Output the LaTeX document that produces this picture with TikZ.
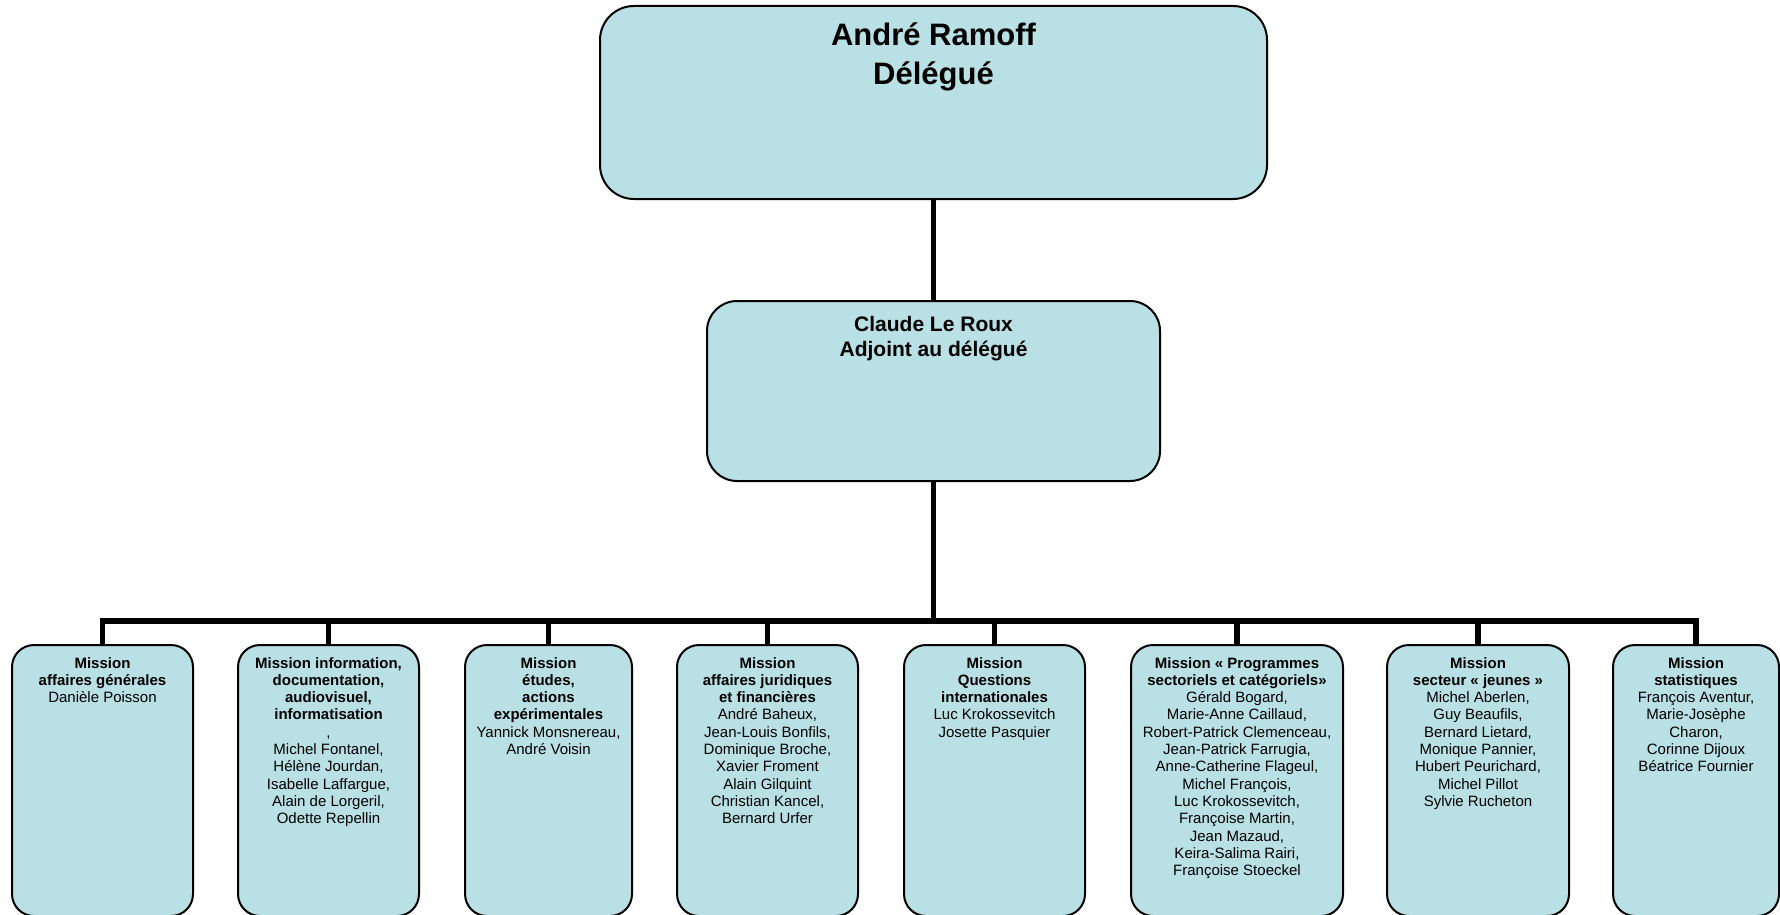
\documentclass[tikz,border=0pt]{standalone}
\usepackage{fontspec}
\setmainfont{Liberation Sans}
\definecolor{boxfill}{RGB}{185,224,228}
\begin{document}
\begin{tikzpicture}[x=1pt,y=-1pt,
  box/.style={draw=black, line width=2pt, fill=boxfill, inner sep=0pt, outer sep=0pt},
  topbox/.style={box, rounded corners=34pt},
  midbox/.style={box, rounded corners=30pt},
  misbox/.style={box, rounded corners=22pt, minimum height=271pt},
  toptext/.style={anchor=north, align=center, inner sep=0pt, font=\fontsize{31}{39}\selectfont\bfseries},
  midtext/.style={anchor=north, align=center, inner sep=0pt, font=\fontsize{21}{25}\selectfont\bfseries},
  mistext/.style={anchor=north, align=center, inner sep=0pt, font=\fontsize{15}{17.3}\selectfont},
  conn/.style={draw=black, line width=5.5pt, line join=miter}]
\useasboundingbox (0,0) rectangle (1780,915);
\clip (0,0) rectangle (1780,915);

% boxes
\node[topbox, minimum width=667pt, minimum height=193pt] (top) at (933.5,102.5) {};
\node[midbox, minimum width=453pt, minimum height=180pt] (mid) at (933.5,391) {};
\node[misbox, minimum width=181pt] (b1) at (102.5,780.5) {};
\node[misbox, minimum width=181pt] (b2) at (328.5,780.5) {};
\node[misbox, minimum width=167pt] (b3) at (548.5,780.5) {};
\node[misbox, minimum width=181pt] (b4) at (767.5,780.5) {};
\node[misbox, minimum width=181pt] (b5) at (994.5,780.5) {};
\node[misbox, minimum width=212pt] (b6) at (1237,780.5) {};
\node[misbox, minimum width=182pt] (b7) at (1478,780.5) {};
\node[misbox, minimum width=166pt] (b8) at (1696,780.5) {};

% connectors
\coordinate (bus) at (933.5,621);
\draw[conn] (top.south) -- (mid.north);
\draw[conn] (mid.south) -- (bus);
\draw[conn] (b1.north) -- (b1.north |- bus) -- (b8.north |- bus) -- (b8.north);
\foreach \b in {b2,b3,b4,b5,b6,b7} {
  \draw[conn] (\b.north) -- (\b.north |- bus);
}

% texts
\node[toptext] (t0) at ([yshift=-17pt]top.north) {André Ramoff\\Délégué};
\node[midtext] (t1) at ([yshift=-15pt]mid.north) {Claude Le Roux\\Adjoint au délégué};

\node[mistext] (tb1) at ([yshift=-12pt]b1.north) {\textbf{Mission}\\\textbf{affaires générales}\\Danièle Poisson};
\node[mistext] (tb2) at ([yshift=-12pt]b2.north) {\textbf{Mission information,}\\\textbf{documentation,}\\\textbf{audiovisuel,}\\\textbf{informatisation}\\,\\Michel Fontanel,\\Hélène Jourdan,\\Isabelle Laffargue,\\Alain de Lorgeril,\\Odette Repellin};
\node[mistext] (tb3) at ([yshift=-12pt]b3.north) {\textbf{Mission}\\\textbf{études,}\\\textbf{actions}\\\textbf{expérimentales}\\Yannick Monsnereau,\\André Voisin};
\node[mistext] (tb4) at ([yshift=-12pt]b4.north) {\textbf{Mission}\\\textbf{affaires juridiques}\\\textbf{et financières}\\André Baheux,\\Jean-Louis Bonfils,\\Dominique Broche,\\Xavier Froment\\Alain Gilquint\\Christian Kancel,\\Bernard Urfer};
\node[mistext] (tb5) at ([yshift=-12pt]b5.north) {\textbf{Mission}\\\textbf{Questions}\\\textbf{internationales}\\Luc Krokossevitch\\Josette Pasquier};
\node[mistext] (tb6) at ([yshift=-12pt]b6.north) {\textbf{Mission « Programmes}\\\textbf{sectoriels et catégoriels»}\\Gérald Bogard,\\Marie-Anne Caillaud,\\Robert-Patrick Clemenceau,\\Jean-Patrick Farrugia,\\Anne-Catherine Flageul,\\Michel François,\\Luc Krokossevitch,\\Françoise Martin,\\Jean Mazaud,\\Keira-Salima Rairi,\\Françoise Stoeckel};
\node[mistext] (tb7) at ([yshift=-12pt]b7.north) {\textbf{Mission}\\\textbf{secteur « jeunes »}\\Michel Aberlen,\\Guy Beaufils,\\Bernard Lietard,\\Monique Pannier,\\Hubert Peurichard,\\Michel Pillot\\Sylvie Rucheton};
\node[mistext] (tb8) at ([yshift=-12pt]b8.north) {\textbf{Mission}\\\textbf{statistiques}\\François Aventur,\\Marie-Josèphe\\Charon,\\Corinne Dijoux\\Béatrice Fournier};
\end{tikzpicture}
\end{document}
